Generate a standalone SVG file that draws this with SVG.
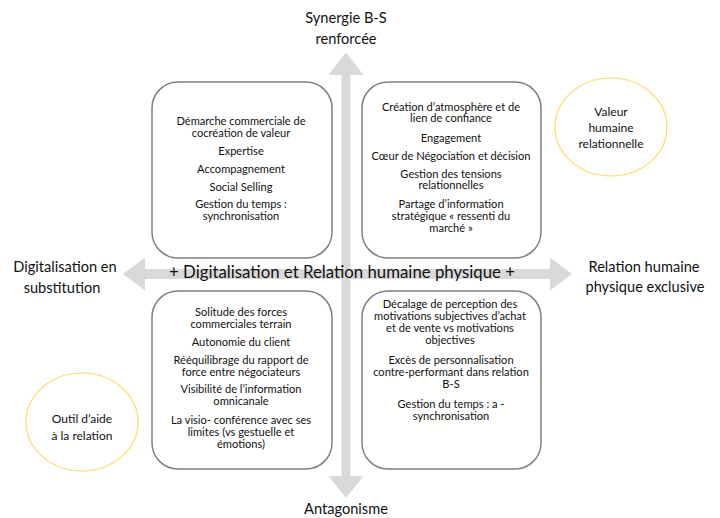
<svg xmlns="http://www.w3.org/2000/svg" width="720" height="518" viewBox="0 0 720 518">
<style>
text{font-family:Lato,"Open Sans","Liberation Sans",sans-serif;fill:#111;text-anchor:middle}
.b{font-size:11.1px}
.ax{font-size:14.6px}
.mid{font-size:16.8px}
.el{font-size:12px}
.box{fill:#fff;stroke:#808080;stroke-width:1.5}
.ell{fill:none;stroke:#ffd966;stroke-width:1.2}
.arr{fill:#d9d9d9}
</style>
<rect width="720" height="518" fill="#fff"/>
<g id="connectors">
<polygon class="arr" points="346,52.5 363.5,75 350.5,75 350.5,476 363.5,476 346,498 328.5,476 341.5,476 341.5,75 328.5,75"/>
<polygon class="arr" points="123,274 145,257.5 145,269 550,269 550,257.5 572,274 550,290.5 550,279 145,279 145,290.5"/>
</g>
<g id="box-tl">
<rect class="box" x="152" y="82" width="180" height="176" rx="26"/>
<text class="b" x="241" y="125">Démarche commerciale de</text>
<text class="b" x="241" y="136.5">cocréation de valeur</text>
<text class="b" x="241" y="154.5">Expertise</text>
<text class="b" x="241" y="172.5">Accompagnement</text>
<text class="b" x="241" y="190.5">Social Selling</text>
<text class="b" x="241" y="208">Gestion du temps :</text>
<text class="b" x="241" y="219.5">synchronisation</text>
</g>
<g id="box-tr">
<rect class="box" x="362" y="82" width="179" height="176" rx="26"/>
<text class="b" x="451" y="110.5">Création d’atmosphère et de</text>
<text class="b" x="451" y="122">lien de confiance</text>
<text class="b" x="451" y="142">Engagement</text>
<text class="b" x="451" y="159.5">Cœur de Négociation et décision</text>
<text class="b" x="451" y="177.5">Gestion des tensions</text>
<text class="b" x="451" y="189">relationnelles</text>
<text class="b" x="451" y="207.5">Partage d’information</text>
<text class="b" x="451" y="219.5">stratégique « ressenti du</text>
<text class="b" x="451" y="231.5">marché »</text>
</g>
<g id="box-bl">
<rect class="box" x="152" y="291" width="180" height="178" rx="26"/>
<text class="b" x="241" y="316">Solitude des forces</text>
<text class="b" x="241" y="327.5">commerciales terrain</text>
<text class="b" x="241" y="345.5">Autonomie du client</text>
<text class="b" x="241" y="363.5">Rééquilibrage du rapport de</text>
<text class="b" x="241" y="375.5">force entre négociateurs</text>
<text class="b" x="241" y="392.5">Visibilité de l’information</text>
<text class="b" x="241" y="405">omnicanale</text>
<text class="b" x="241" y="424">La visio- conférence avec ses</text>
<text class="b" x="241" y="435.5">limites (vs gestuelle et</text>
<text class="b" x="241" y="447.5">émotions)</text>
</g>
<g id="box-br">
<rect class="box" x="362" y="291" width="179" height="178" rx="26"/>
<text class="b" x="450" y="307.5">Décalage de perception des</text>
<text class="b" x="450" y="319.5">motivations subjectives d’achat</text>
<text class="b" x="450" y="332">et de vente vs motivations</text>
<text class="b" x="450" y="344">objectives</text>
<text class="b" x="451" y="363.5">Excès de personnalisation</text>
<text class="b" x="451" y="375.5">contre-performant dans relation</text>
<text class="b" x="451" y="387.5">B-S</text>
<text class="b" x="451" y="407.5">Gestion du temps : a -</text>
<text class="b" x="451" y="420">synchronisation</text>
</g>
<g id="ellipse-valeur">
<ellipse class="ell" cx="611" cy="127" rx="56" ry="49"/>
<text class="el" x="611" y="116">Valeur</text>
<text class="el" x="611" y="132">humaine</text>
<text class="el" x="611" y="148">relationnelle</text>
</g>
<g id="ellipse-outil">
<ellipse class="ell" cx="82" cy="422" rx="56" ry="49"/>
<text class="el" x="82" y="423">Outil d’aide</text>
<text class="el" x="82" y="440">à la relation</text>
</g>
<g id="label-top">
<text class="ax" x="346" y="23">Synergie B-S</text>
<text class="ax" x="346" y="44">renforcée</text>
</g>
<g id="label-bottom">
<text class="ax" x="346" y="514">Antagonisme</text>
</g>
<g id="label-left">
<text class="ax" x="65" y="272">Digitalisation en</text>
<text class="ax" x="62" y="293">substitution</text>
</g>
<g id="label-right">
<text class="ax" x="644" y="272">Relation humaine</text>
<text class="ax" x="645" y="292">physique exclusive</text>
</g>
<g id="label-center">
<text class="mid" x="342" y="278">+ Digitalisation et Relation humaine physique +</text>
</g>
</svg>
